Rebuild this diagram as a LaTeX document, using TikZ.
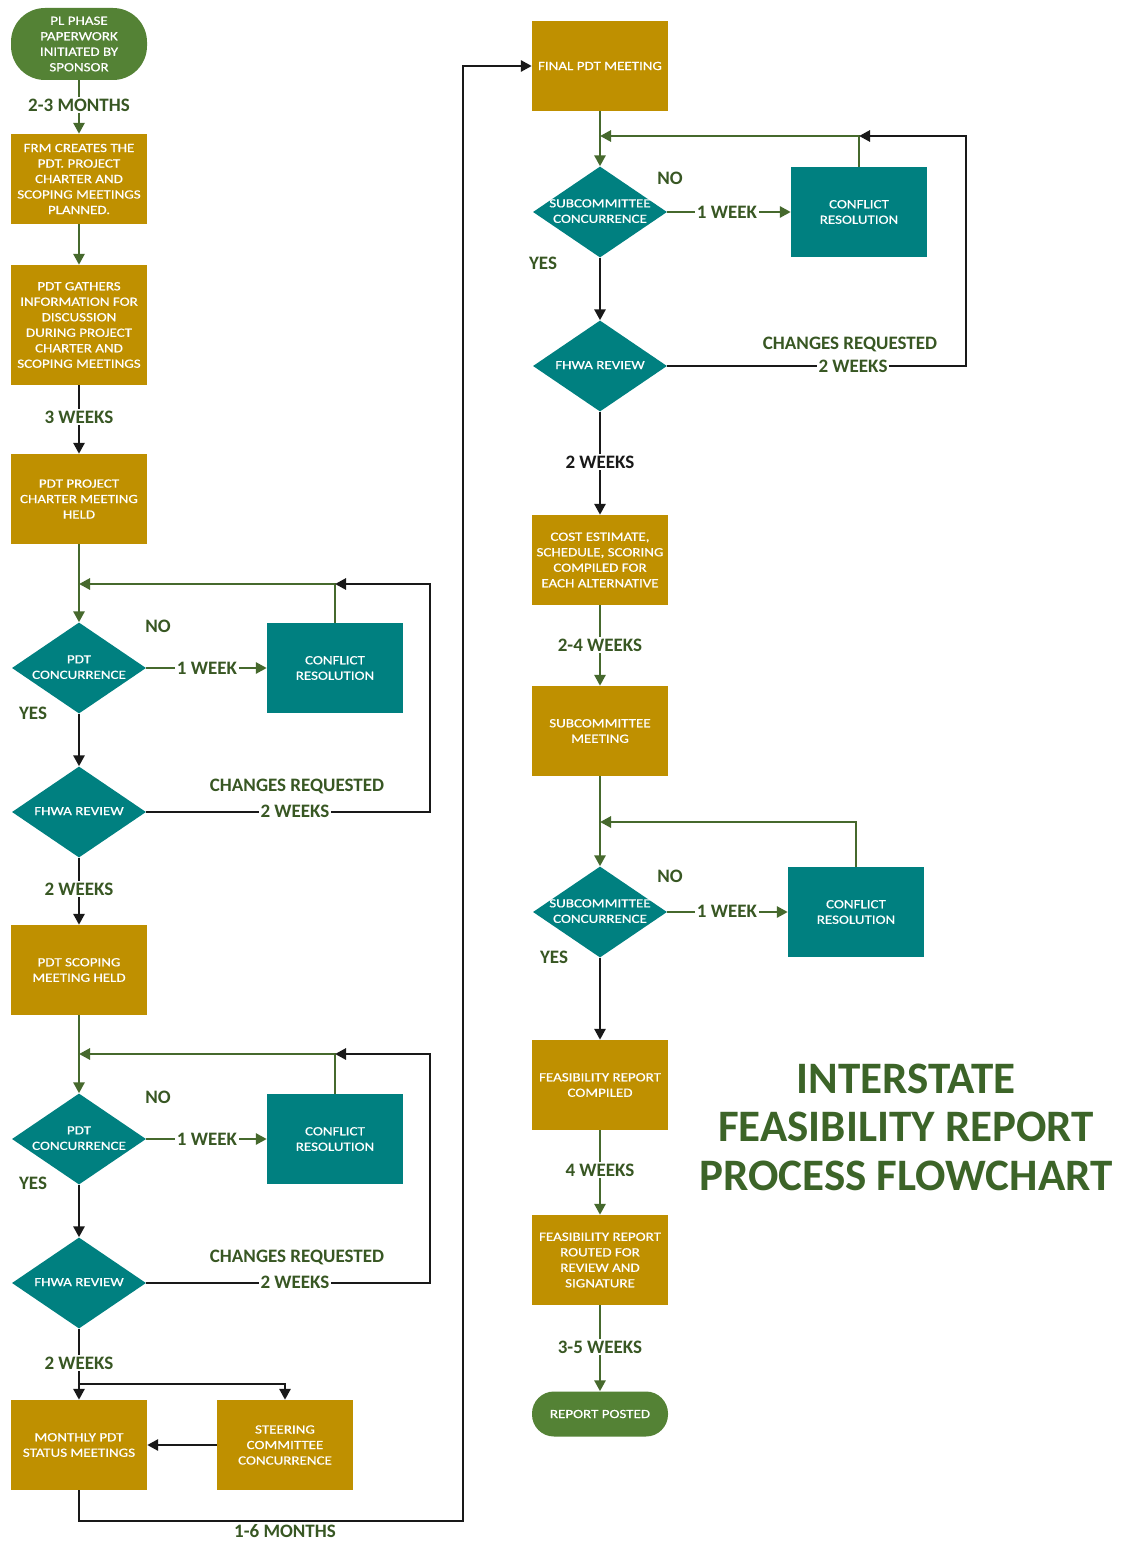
\documentclass[tikz,border=0pt]{standalone}
\usepackage{fontspec}
\setmainfont{Carlito}
\newfontfamily\boxfont[FakeStretch=1.2,FakeBold=0.6]{Carlito}
\usetikzlibrary{arrows.meta,shapes.geometric,calc}
\definecolor{gold}{RGB}{191,144,0}
\definecolor{tealc}{RGB}{0,128,128}
\definecolor{termg}{RGB}{84,130,53}
\definecolor{lblg}{RGB}{56,87,35}
\definecolor{lineg}{RGB}{70,105,45}
\definecolor{titleg}{RGB}{60,100,40}
\definecolor{lineb}{RGB}{25,25,25}
\newcommand{\dtext}[1]{\makebox[0pt]{\smash{\raisebox{-3pt}{\begin{tabular}{@{}c@{}}#1\end{tabular}}}}}
\tikzset{
  boxtxt/.style={text=white, font=\boxfont\fontsize{12.5}{15.5}\selectfont, align=center, inner sep=0pt},
  box/.style={boxtxt, rectangle, fill=gold, minimum width=136pt, minimum height=90pt},
  tbox/.style={boxtxt, rectangle, fill=tealc, minimum width=136pt, minimum height=90pt},
  dia/.style={boxtxt, diamond, fill=tealc, minimum width=134pt, minimum height=91pt},
  term/.style={boxtxt, rectangle, fill=termg, minimum width=136pt},
  lbl/.style={font=\bfseries\fontsize{19}{21}\selectfont, text=lblg, inner sep=1.5pt},
  lblw/.style={lbl, fill=white},
  gl/.style={draw=lineg, line width=2.8pt},
  bl/.style={draw=lineb, line width=2.8pt},
  arr/.style={-{Triangle[length=11pt,width=11pt]}}
}
\begin{document}
\begin{tikzpicture}[x=1pt,y=-1pt]
\fill[white] (0,0) rectangle (1121,1541);
\useasboundingbox (0,0) rectangle (1121,1541);
% ---------- left column ----------
\node[term, minimum height=72pt, rounded corners=34pt] (start) at (79,44) {PL PHASE\\PAPERWORK\\INITIATED BY\\SPONSOR};
\node[box] (b1) at (79,179) {FRM CREATES THE\\PDT. PROJECT\\CHARTER AND\\SCOPING MEETINGS\\PLANNED.};
\node[box, minimum height=120pt] (b2) at (79,325) {PDT GATHERS\\INFORMATION FOR\\DISCUSSION\\DURING PROJECT\\CHARTER AND\\SCOPING MEETINGS};
\node[box] (b3) at (79,499) {PDT PROJECT\\CHARTER MEETING\\HELD};
\node[dia] (d1) at (79,668) {\dtext{PDT\\CONCURRENCE}};
\node[tbox] (c1) at (335,668) {CONFLICT\\RESOLUTION};
\node[dia] (f1) at (79,812) {\dtext{FHWA REVIEW}};
\node[box] (b4) at (79,970) {PDT SCOPING\\MEETING HELD};
\node[dia] (d2) at (79,1139) {\dtext{PDT\\CONCURRENCE}};
\node[tbox] (c2) at (335,1139) {CONFLICT\\RESOLUTION};
\node[dia] (f2) at (79,1283) {\dtext{FHWA REVIEW}};
\node[box] (m) at (79,1445) {MONTHLY PDT\\STATUS MEETINGS};
\node[box] (st) at (285,1445) {STEERING\\COMMITTEE\\CONCURRENCE};
% ---------- right column ----------
\node[box] (fin) at (600,66) {FINAL PDT MEETING};
\node[dia] (d3) at (600,212) {\dtext{SUBCOMMITTEE\\CONCURRENCE}};
\node[tbox] (c3) at (859,212) {CONFLICT\\RESOLUTION};
\node[dia] (f3) at (600,366) {\dtext{FHWA REVIEW}};
\node[box] (cost) at (600,560) {COST ESTIMATE,\\SCHEDULE, SCORING\\COMPILED FOR\\EACH ALTERNATIVE};
\node[box] (sub) at (600,731) {SUBCOMMITTEE\\MEETING};
\node[dia] (d4) at (600,912) {\dtext{SUBCOMMITTEE\\CONCURRENCE}};
\node[tbox] (c4) at (856,912) {CONFLICT\\RESOLUTION};
\node[box] (fc) at (600,1085) {FEASIBILITY REPORT\\COMPILED};
\node[box] (fr) at (600,1260) {FEASIBILITY REPORT\\ROUTED FOR\\REVIEW AND\\SIGNATURE};
\node[term, minimum height=45pt, rounded corners=22pt] (end) at (600,1414) {REPORT POSTED};
\node[font=\bfseries\fontsize{45}{48.5}\selectfont, text=titleg, align=center] (title) at (906,1127) {INTERSTATE\\FEASIBILITY REPORT\\PROCESS FLOWCHART};
% ---------- coordinates ----------
\coordinate (j1) at (79,584);
\coordinate (r1) at (430,584);
\coordinate (j2) at (79,1054);
\coordinate (r2) at (430,1054);
\coordinate (j3) at (79,1384);
\coordinate (k1) at (463,1521);
\coordinate (k2) at (463,66);
\coordinate (j5) at (600,136);
\coordinate (r5) at (966,136);
\coordinate (j7) at (600,822);
% ---------- connectors left ----------
\draw[gl,arr] (start) -- (b1);
\draw[gl,arr] (b1) -- (b2);
\draw[bl,arr] (b2) -- (b3);
\draw[gl,arr] (b3.south) -- (d1.north);
\draw[gl,arr] (c1.north) |- (j1);
\draw[gl,arr] (d1.east) -- (c1.west);
\draw[bl,arr] (d1.south) -- (f1.north);
\draw[bl,arr] (f1.east) -| (r1) -- (c1.north |- r1);
\draw[bl,arr] (f1.south) -- (b4.north);
\draw[gl,arr] (b4.south) -- (d2.north);
\draw[gl,arr] (c2.north) |- (j2);
\draw[gl,arr] (d2.east) -- (c2.west);
\draw[bl,arr] (d2.south) -- (f2.north);
\draw[bl,arr] (f2.east) -| (r2) -- (c2.north |- r2);
\draw[bl] (f2.south) -- (j3);
\draw[bl,arr] (j3) -- (m.north);
\draw[bl,arr] (j3) -| (st.north);
\draw[bl,arr] (st.west) -- (m.east);
\draw[bl,arr] (m.south) |- (k1) -- (k2) -- (fin.west);
% ---------- connectors right ----------
\draw[gl,arr] (fin.south) -- (d3.north);
\draw[gl,arr] (c3.north) |- (j5);
\draw[gl,arr] (d3.east) -- (c3.west);
\draw[bl,arr] (d3.south) -- (f3.north);
\draw[bl,arr] (f3.east) -| (r5) -- (c3.north |- r5);
\draw[bl,arr] (f3.south) -- (cost.north);
\draw[gl,arr] (cost) -- (sub);
\draw[gl,arr] (sub.south) -- (d4.north);
\draw[gl,arr] (c4.north) |- (j7);
\draw[gl,arr] (d4.east) -- (c4.west);
\draw[bl,arr] (d4.south) -- (fc.north);
\draw[gl,arr] (fc) -- (fr);
\draw[gl,arr] (fr) -- (end);
% ---------- labels left ----------
\node[lblw] (t1) at (79,105) {2-3 MONTHS};
\node[lblw] (t2) at (79,417) {3 WEEKS};
\node[lbl] (t3) at (158,626) {NO};
\node[lblw] (t4) at (207,668) {1 WEEK};
\node[lbl] (t5) at (33,713) {YES};
\node[lbl] (t6) at (297,786) {CHANGES REQUESTED};
\node[lblw] (t7) at (295,811) {2 WEEKS};
\node[lblw] (t8) at (79,889) {2 WEEKS};
\node[lbl] (t9) at (158,1097) {NO};
\node[lblw] (t10) at (207,1139) {1 WEEK};
\node[lbl] (t11) at (33,1183) {YES};
\node[lbl] (t12) at (297,1257) {CHANGES REQUESTED};
\node[lblw] (t13) at (295,1282) {2 WEEKS};
\node[lblw] (t14) at (79,1363) {2 WEEKS};
\node[lbl] (t15) at (285,1531) {1-6 MONTHS};
% ---------- labels right ----------
\node[lbl] (u1) at (670,178) {NO};
\node[lblw] (u2) at (727,212) {1 WEEK};
\node[lbl] (u3) at (543,263) {YES};
\node[lbl] (u4) at (850,344) {CHANGES REQUESTED};
\node[lblw] (u5) at (853,366) {2 WEEKS};
\node[lblw, text=lineb] (u6) at (600,462) {2 WEEKS};
\node[lblw] (u7) at (600,645) {2-4 WEEKS};
\node[lbl] (u8) at (670,876) {NO};
\node[lblw] (u9) at (727,911) {1 WEEK};
\node[lbl] (u10) at (554,957) {YES};
\node[lblw] (u11) at (600,1170) {4 WEEKS};
\node[lblw] (u12) at (600,1347) {3-5 WEEKS};
\end{tikzpicture}
\end{document}
